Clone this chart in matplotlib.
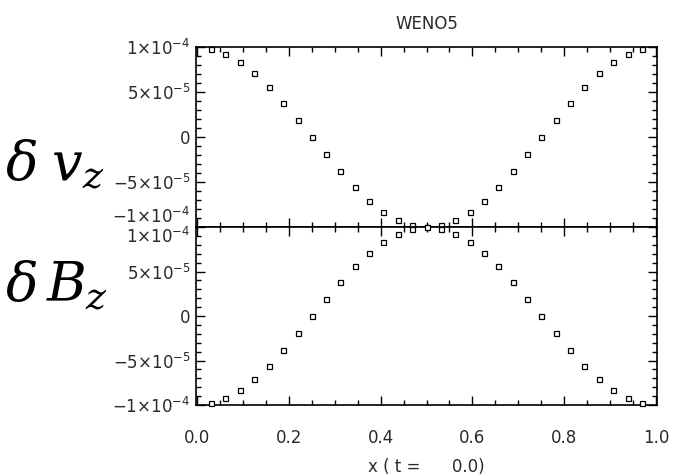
import matplotlib
matplotlib.use("Agg")
import matplotlib.pyplot as plt
from matplotlib.ticker import FixedLocator, MultipleLocator, NullFormatter

# grid positions
x_pos = [0.031, 0.062, 0.094, 0.125, 0.156, 0.188, 0.219, 0.250, 0.281, 0.312,
         0.344, 0.375, 0.406, 0.438, 0.469, 0.500, 0.531, 0.562, 0.594, 0.625,
         0.656, 0.688, 0.719, 0.750, 0.781, 0.812, 0.844, 0.875, 0.906, 0.938,
         0.969]

# values in units of 1e-5
dvz = [9.8, 9.2, 8.3, 7.1, 5.6, 3.8, 1.9, 0.0, -1.9, -3.8, -5.6, -7.1, -8.3,
       -9.2, -9.8, -10.0, -9.8, -9.2, -8.3, -7.1, -5.6, -3.8, -1.9, 0.0, 1.9,
       3.8, 5.6, 7.1, 8.3, 9.2, 9.8]
dbz = [-9.8, -9.2, -8.3, -7.1, -5.6, -3.8, -1.9, 0.0, 1.9, 3.8, 5.6, 7.1, 8.3,
       9.2, 9.8, 10.0, 9.8, 9.2, 8.3, 7.1, 5.6, 3.8, 1.9, 0.0, -1.9, -3.8,
       -5.6, -7.1, -8.3, -9.2, -9.8]

y_ticks = [-1e-4, -5e-5, 0, 5e-5, 1e-4]
y_ticklabels = [r"$\mathregular{-1{\times}10^{-4}}$", r"$\mathregular{-5{\times}10^{-5}}$",
                "0", r"$\mathregular{5{\times}10^{-5}}$", r"$\mathregular{1{\times}10^{-4}}$"]
x_ticks = [0.0, 0.2, 0.4, 0.6, 0.8, 1.0]
x_ticklabels = ["0.0", "0.2", "0.4", "0.6", "0.8", "1.0"]

txt_color = "#2a2a2a"

fig = plt.figure(figsize=(6.83, 4.76), dpi=100)
ax1 = fig.add_axes([0.287, 0.523, 0.675, 0.378])
ax2 = fig.add_axes([0.287, 0.149, 0.675, 0.374])


def style(ax):
    ax.set_xlim(-0.002, 1.002)
    ax.set_ylim(-1e-4, 1e-4)
    ax.yaxis.set_major_locator(FixedLocator(y_ticks))
    ax.set_yticklabels(y_ticklabels)
    ax.yaxis.set_minor_locator(MultipleLocator(1e-5))
    ax.xaxis.set_major_locator(FixedLocator(x_ticks))
    ax.xaxis.set_minor_locator(MultipleLocator(0.05))
    ax.tick_params(which="both", direction="in", top=True, right=True,
                   width=1.0, colors="black", labelcolor=txt_color,
                   labelsize=12, pad=4)
    ax.tick_params(which="major", length=6.5)
    ax.tick_params(which="minor", length=3.5)
    for s in ax.spines.values():
        s.set_linewidth(1.2)


for ax, vals in [(ax1, dvz), (ax2, dbz)]:
    style(ax)
    ax.plot(x_pos, [v * 1e-5 for v in vals], linestyle="none", marker="s",
            markersize=3.6, markerfacecolor="white", markeredgecolor="black",
            markeredgewidth=0.9, clip_on=False, zorder=5)

ax1.xaxis.set_major_formatter(NullFormatter())
ax2.set_xticklabels(x_ticklabels)
ax2.tick_params(axis="x", pad=17)

# keep the two labels at the joint apart
ax1.get_yticklabels()[0].set_verticalalignment("bottom")
ax2.get_yticklabels()[-1].set_verticalalignment("top")

ax1.set_title("WENO5", fontsize=12, color=txt_color, pad=13)
ax2.set_xlabel("x ( t =      0.0)", fontsize=12, color=txt_color, labelpad=8)

fig.text(0.008, 0.655, r"$\delta\;v_{z}$", fontsize=39, ha="left", va="center",
         math_fontfamily="dejavuserif")
fig.text(0.008, 0.40, r"$\delta\,B_{z}$", fontsize=39, ha="left", va="center",
         math_fontfamily="dejavuserif")

fig.savefig("out.png", dpi=100)
